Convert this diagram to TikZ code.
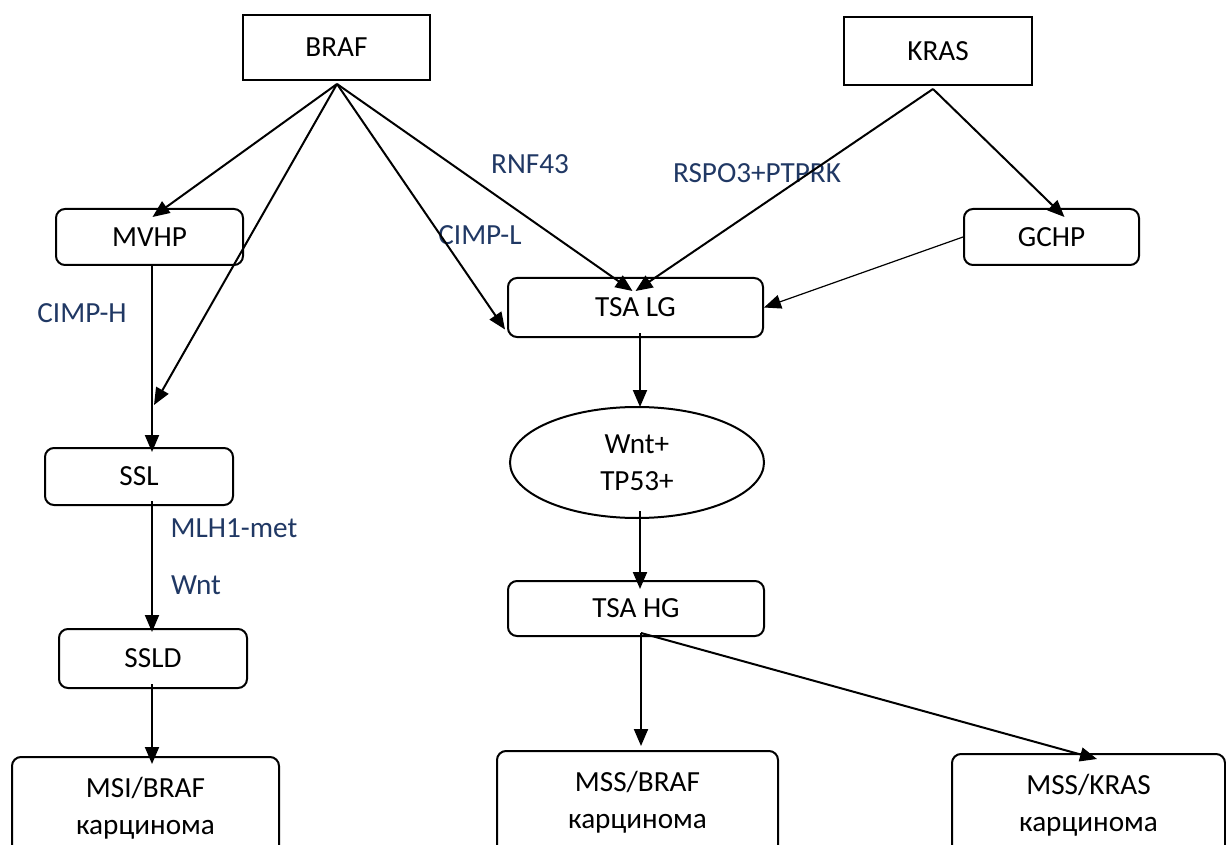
\documentclass[tikz,border=0pt]{standalone}
\usepackage{fontspec}
\setmainfont{Carlito}
\usetikzlibrary{arrows.meta,shapes.geometric,calc}
\definecolor{lbl}{HTML}{203864}
\begin{document}
\begin{tikzpicture}[x=0.5pt,y=-0.5pt,
  every node/.style={font=\fontsize{14.6}{18.5}\selectfont, inner sep=0pt, align=center},
  box/.style={draw, line width=1pt},
  rbox/.style={box, rounded corners=4.5pt},
  lab/.style={text=lbl},
  arr/.style={line width=1pt, -{Triangle[length=8.5pt,width=7pt]}},
  thinarr/.style={line width=0.6pt, -{Triangle[length=8.5pt,width=7pt]}}]
\useasboundingbox (0,0) rectangle (1226,845);
\clip (0,0) rectangle (1226,845);

\node[box, minimum width=93.5pt, minimum height=32.5pt] (braf) at (336.5,47.5) {BRAF};
\node[box, minimum width=94pt, minimum height=34pt] (kras) at (938,51) {KRAS};
\node[rbox, minimum width=93.5pt, minimum height=28pt] (mvhp) at (149.5,237) {MVHP};
\node[rbox, minimum width=87.5pt, minimum height=28pt] (gchp) at (1051.5,237) {GCHP};
\node[rbox, minimum width=127.5pt, minimum height=29.5pt] (tsalg) at (635.5,307.5) {TSA LG};
\node[box, ellipse, minimum width=127pt, minimum height=55.5pt] (wnt) at (637,462.5) {Wnt+\\TP53+};
\node[rbox, minimum width=128pt, minimum height=27.5pt] (tsahg) at (636,608.5) {TSA HG};
\node[rbox, minimum width=94pt, minimum height=28.5pt] (ssl) at (139,476.5) {SSL};
\node[rbox, minimum width=94pt, minimum height=29.5pt] (ssld) at (153,658.5) {SSLD};
\node[rbox, minimum width=133.5pt, minimum height=51.5pt] (msi) at (145.5,808.5) {MSI/BRAF\\карцинома};
\node[rbox, minimum width=140.5pt, minimum height=51.5pt] (mssb) at (637.5,802.5) {MSS/BRAF\\карцинома};
\node[rbox, minimum width=136.5pt, minimum height=51pt] (mssk) at (1088.5,805) {MSS/KRAS\\карцинома};

\node[lab] (rnf) at (530,164) {RNF43};
\node[lab] (rspo) at (757,173) {RSPO3+PTPRK};
\node[lab] (cimpl) at (480,235) {CIMP-L};
\node[lab] (cimph) at (82,313) {CIMP-H};
\node[lab] (mlh) at (234,528) {MLH1-met};
\node[lab] (wntl) at (196,585) {Wnt};

\coordinate (bo) at ($(braf.south)+(0.5,3)$);
\coordinate (ko) at ($(kras.south)+(-5,3)$);
\coordinate (sslhit) at (154,405);
\coordinate (hgo) at ($(tsahg.south)+(5,-4)$);

\draw[arr] (bo) -- ($(mvhp.north)+(3,9)$);
\draw[arr] (bo) -- (sslhit);
\draw[arr] (bo) -- ($(tsalg.west)+(-2,22)$);
\draw[arr] (bo) -- ($(tsalg.north)+(-3,14)$);
\draw[arr] (ko) -- ($(tsalg.north)+(0,14)$);
\draw[arr] (ko) -- ($(gchp.north)+(13,9)$);
\draw[thinarr] (gchp.west) -- (tsalg.east);
\draw[arr] ($(mvhp.south)+(2.5,0)$) -- ($(ssl.north)+(13,5)$);
\draw[arr] ($(tsalg.south)+(4.5,-5)$) -- ($(wnt.north)+(3,1)$);
\draw[arr] ($(wnt.south)+(3,-8)$) -- ($(tsahg.north)+(4,9)$);
\draw[arr] ($(ssl.south)+(13,-5)$) -- ($(ssld.north)+(-1,4)$);
\draw[arr] ($(ssld.south)+(-1,-5)$) -- ($(msi.north)+(6.5,8)$);
\draw[arr] (hgo) -- ($(mssb.north)+(3.5,-4)$);
\draw[arr] (hgo) -- ($(mssk.north)+(8.5,6)$);
\end{tikzpicture}
\end{document}
